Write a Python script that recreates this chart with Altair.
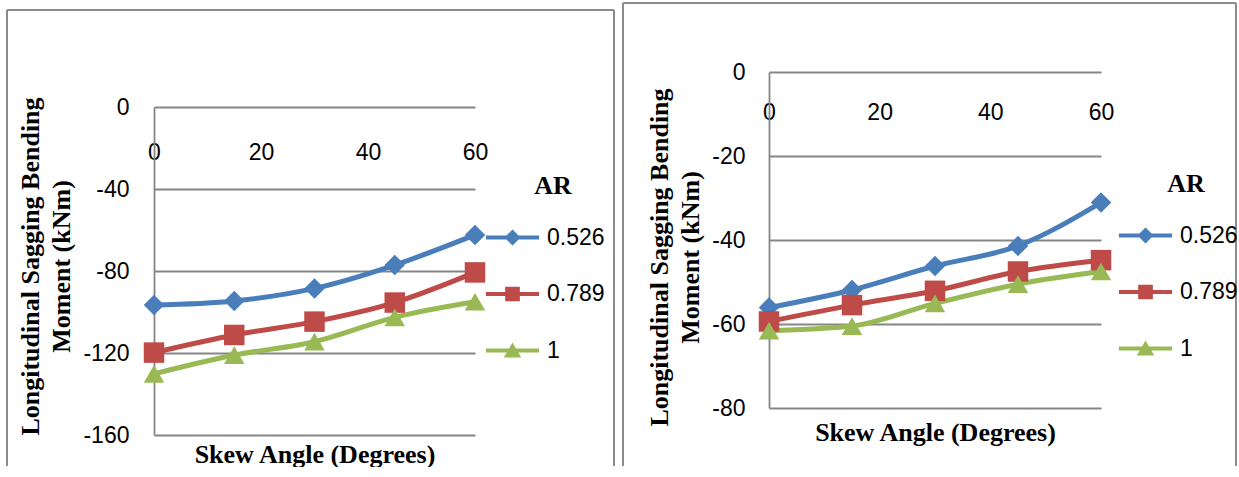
import altair as alt
import pandas as pd

# ---------------- data ----------------
angles = [0, 15, 30, 45, 60]
ar_values = ["0.526", "0.789", "1"]

left_ar_0526 = [-96.6, -94.6, -88.5, -77.1, -62.4]
left_ar_0789 = [-119.8, -111.2, -104.7, -95.4, -80.7]
left_ar_1 = [-130.2, -121.0, -114.5, -102.6, -95.0]

right_ar_0526 = [-56.1, -51.9, -46.2, -41.4, -31.1]
right_ar_0789 = [-59.4, -55.5, -52.1, -47.5, -44.8]
right_ar_1 = [-61.6, -60.5, -55.1, -50.5, -47.5]

x_ticks = [0, 20, 40, 60]
left_y_ticks = [0, -40, -80, -120, -160]
right_y_ticks = [0, -20, -40, -60, -80]

x_title = "Skew Angle (Degrees)"
y_title = ["Longitudinal Sagging Bending", "Moment (kNm)"]
legend_title = "AR"

# ---------------- style ----------------
colors = ["#4A7EBB", "#BE4B48", "#98B954"]
markers = ["diamond", "square", "triangle-up"]
GRID = "#868686"
FRAME = "#8c8c8c"
LABEL_FONT = "Liberation Sans"
TITLE_FONT = "Liberation Serif"
LABEL_SIZE = 23

BAR = "M-3.8,-0.3L3.8,-0.3L3.8,0.3L-3.8,0.3Z"
legend_shapes = [
    BAR + "M0,-1.15L1.15,0L0,1.15L-1.15,0Z",
    BAR + "M-1.05,-1.05L1.05,-1.05L1.05,1.05L-1.05,1.05Z",
    BAR + "M0,-1.15L1.25,1L-1.25,1Z",
]


def long_df(series):
    rows = []
    for ar, vals in zip(ar_values, series):
        for a, v in zip(angles, vals):
            rows.append({"angle": a, "moment": v, "AR": ar})
    return pd.DataFrame(rows)


one = pd.DataFrame({"k": [0]})


def panel(series, y_domain, y_ticks, W, H, y_range, xlab_pad, ylab_pad,
          xtitle_pad, ytitle_y, legend_x, legend_y, frame):
    df = long_df(series)
    cscale = alt.Scale(domain=ar_values, range=colors)
    x = alt.X(
        "angle:Q",
        scale=alt.Scale(domain=[0, 60], nice=False, zero=False),
        axis=alt.Axis(
            orient="bottom", values=x_ticks, domain=False, ticks=False, grid=False,
            labelFlush=False, labelPadding=xlab_pad, labelFont=LABEL_FONT,
            labelFontSize=LABEL_SIZE, labelColor="black",
            title=x_title, titleFont=TITLE_FONT, titleFontWeight="bold",
            titleFontSize=26, titleColor="black", titlePadding=xtitle_pad,
        ),
    )
    if y_range is not None:
        yscale = alt.Scale(domain=y_domain, nice=False, zero=False, range=y_range)
    else:
        yscale = alt.Scale(domain=y_domain, nice=False, zero=False)
    y = alt.Y(
        "moment:Q",
        scale=yscale,
        axis=alt.Axis(
            values=y_ticks, domain=True, domainColor=GRID, domainWidth=1.8,
            ticks=False, grid=True, gridColor=GRID, gridWidth=1.8,
            labelExpr="'' + datum.value",
            labelPadding=ylab_pad, labelFont=LABEL_FONT, labelFontSize=LABEL_SIZE,
            labelColor="black",
            title=y_title, titleFont=TITLE_FONT, titleFontWeight="bold",
            titleFontSize=26, titleColor="black", titleLineHeight=31,
            titlePadding=8, titleY=ytitle_y,
        ),
    )
    base = alt.Chart(df).encode(
        x=x, y=y, color=alt.Color("AR:N", scale=cscale, legend=None)
    )
    lines = base.mark_line(strokeWidth=5, interpolate="monotone")
    pts = [
        base.transform_filter(alt.datum.AR == ar).mark_point(
            shape=m, filled=True, size=420, opacity=1
        )
        for ar, m in zip(ar_values, markers)
    ]
    leg = alt.Legend(
        title=legend_title, orient="none", legendX=legend_x, legendY=legend_y,
        symbolSize=196, symbolStrokeWidth=0, symbolOpacity=1, labelOffset=23,
        labelFont=LABEL_FONT, labelFontSize=LABEL_SIZE, labelColor="black",
        titleFont=TITLE_FONT, titleFontSize=26, titleFontWeight="bold",
        titleColor="black", titleAnchor="middle", titlePadding=27,
        rowPadding=32.5,
    )
    legend_layer = base.mark_point(filled=True, opacity=0).encode(
        color=alt.Color("AR:N", scale=cscale, legend=leg),
        shape=alt.Shape("AR:N", scale=alt.Scale(domain=ar_values, range=legend_shapes), legend=leg),
    )
    fx1, fx2, fy1, fy2 = frame
    fb = alt.Chart(one)
    frame_layers = [
        fb.mark_rule(color=FRAME, strokeWidth=2).encode(
            x=alt.value(fx1), x2=alt.value(fx2), y=alt.value(fy1)),
        fb.mark_rule(color=FRAME, strokeWidth=2).encode(
            x=alt.value(fx1), y=alt.value(fy1), y2=alt.value(fy2)),
        fb.mark_rule(color=FRAME, strokeWidth=2).encode(
            x=alt.value(fx2), y=alt.value(fy1), y2=alt.value(fy2)),
    ]
    return alt.layer(*frame_layers, lines, *pts, legend_layer).resolve_legend(
        color="independent", shape="independent"
    ).properties(width=W, height=H)


# left plot area occupies rows 35..363 of a 363-high view so that both
# panels share the same origin row in the concatenation
left = panel(
    [left_ar_0526, left_ar_0789, left_ar_1], [-160, 0], left_y_ticks,
    W=321, H=363, y_range=[363, 35], xlab_pad=-294, ylab_pad=25, xtitle_pad=6,
    ytitle_y=194, legend_x=347, legend_y=101, frame=(-147, 460, -62, 394),
)
right = panel(
    [right_ar_0526, right_ar_0789, right_ar_1], [-80, 0], right_y_ticks,
    W=332, H=336, y_range=None, xlab_pad=-307, ylab_pad=24, xtitle_pad=11,
    ytitle_y=185, legend_x=365, legend_y=99, frame=(-146, 467, -69, 394),
)

chart = alt.concat(left, right, columns=2, spacing=7, align="none").properties(
    padding={"left": 6, "top": 2, "right": 0, "bottom": 0},
    background="white",
).configure_view(stroke=None)

chart.save("out.html", embed_options={"renderer": "svg", "actions": False})
